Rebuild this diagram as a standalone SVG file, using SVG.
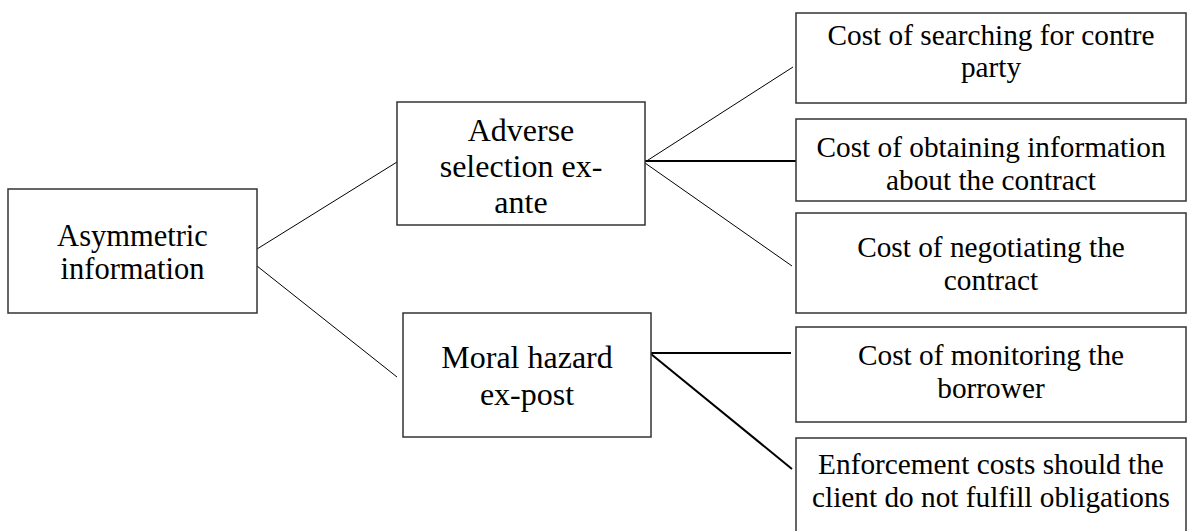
<svg xmlns="http://www.w3.org/2000/svg" width="1188" height="531" viewBox="0 0 1188 531">
<style>
.box{fill:#fff;stroke:#333;stroke-width:1.5}
text{font-family:'Liberation Serif',serif;fill:#000;text-anchor:middle}
.big{font-size:32px}
.mid{font-size:30.5px}
.sm{font-size:29.3px}
.c1{stroke:#000;stroke-width:1;fill:none}
.c2{stroke:#000;stroke-width:2;fill:none}
</style>
<rect width="1188" height="531" fill="#fff"/>
<g id="connectors">
<line class="c1" x1="257" y1="249" x2="397" y2="162"/>
<line class="c1" x1="257" y1="266" x2="397" y2="377"/>
<line class="c1" x1="645" y1="162" x2="793" y2="67"/>
<line class="c2" x1="645" y1="161" x2="796" y2="161"/>
<line class="c1" x1="645" y1="163" x2="792" y2="266"/>
<line class="c2" x1="651" y1="353" x2="791" y2="353"/>
<line class="c2" x1="651" y1="354" x2="792" y2="469"/>
</g>
<g id="n-asym">
<rect class="box" x="8" y="189" width="249" height="124"/>
<text class="mid" x="132.5" y="246">Asymmetric</text>
<text class="mid" x="132.5" y="279">information</text>
</g>
<g id="n-adverse">
<rect class="box" x="397" y="102" width="248" height="123"/>
<text class="big" x="521" y="141">Adverse</text>
<text class="big" x="521" y="177">selection ex-</text>
<text class="big" x="521" y="213">ante</text>
</g>
<g id="n-moral">
<rect class="box" x="403" y="313" width="248" height="124"/>
<text class="big" x="527" y="368">Moral hazard</text>
<text class="big" x="527" y="405">ex-post</text>
</g>
<g id="n-search">
<rect class="box" x="796" y="13" width="390" height="90"/>
<text class="sm" x="991" y="45">Cost of searching for contre</text>
<text class="sm" x="991" y="77">party</text>
</g>
<g id="n-obtain">
<rect class="box" x="796" y="119" width="390" height="82"/>
<text class="sm" x="991" y="157">Cost of obtaining information</text>
<text class="sm" x="991" y="190">about the contract</text>
</g>
<g id="n-negotiate">
<rect class="box" x="796" y="213" width="390" height="100"/>
<text class="sm" x="991" y="257">Cost of negotiating the</text>
<text class="sm" x="991" y="290">contract</text>
</g>
<g id="n-monitor">
<rect class="box" x="796" y="327" width="390" height="95"/>
<text class="sm" x="991" y="365">Cost of monitoring the</text>
<text class="sm" x="991" y="398">borrower</text>
</g>
<g id="n-enforce">
<rect class="box" x="796" y="438" width="390" height="110"/>
<text class="sm" x="991" y="474">Enforcement costs should the</text>
<text class="sm" x="991" y="507">client do not fulfill obligations</text>
</g>
</svg>
